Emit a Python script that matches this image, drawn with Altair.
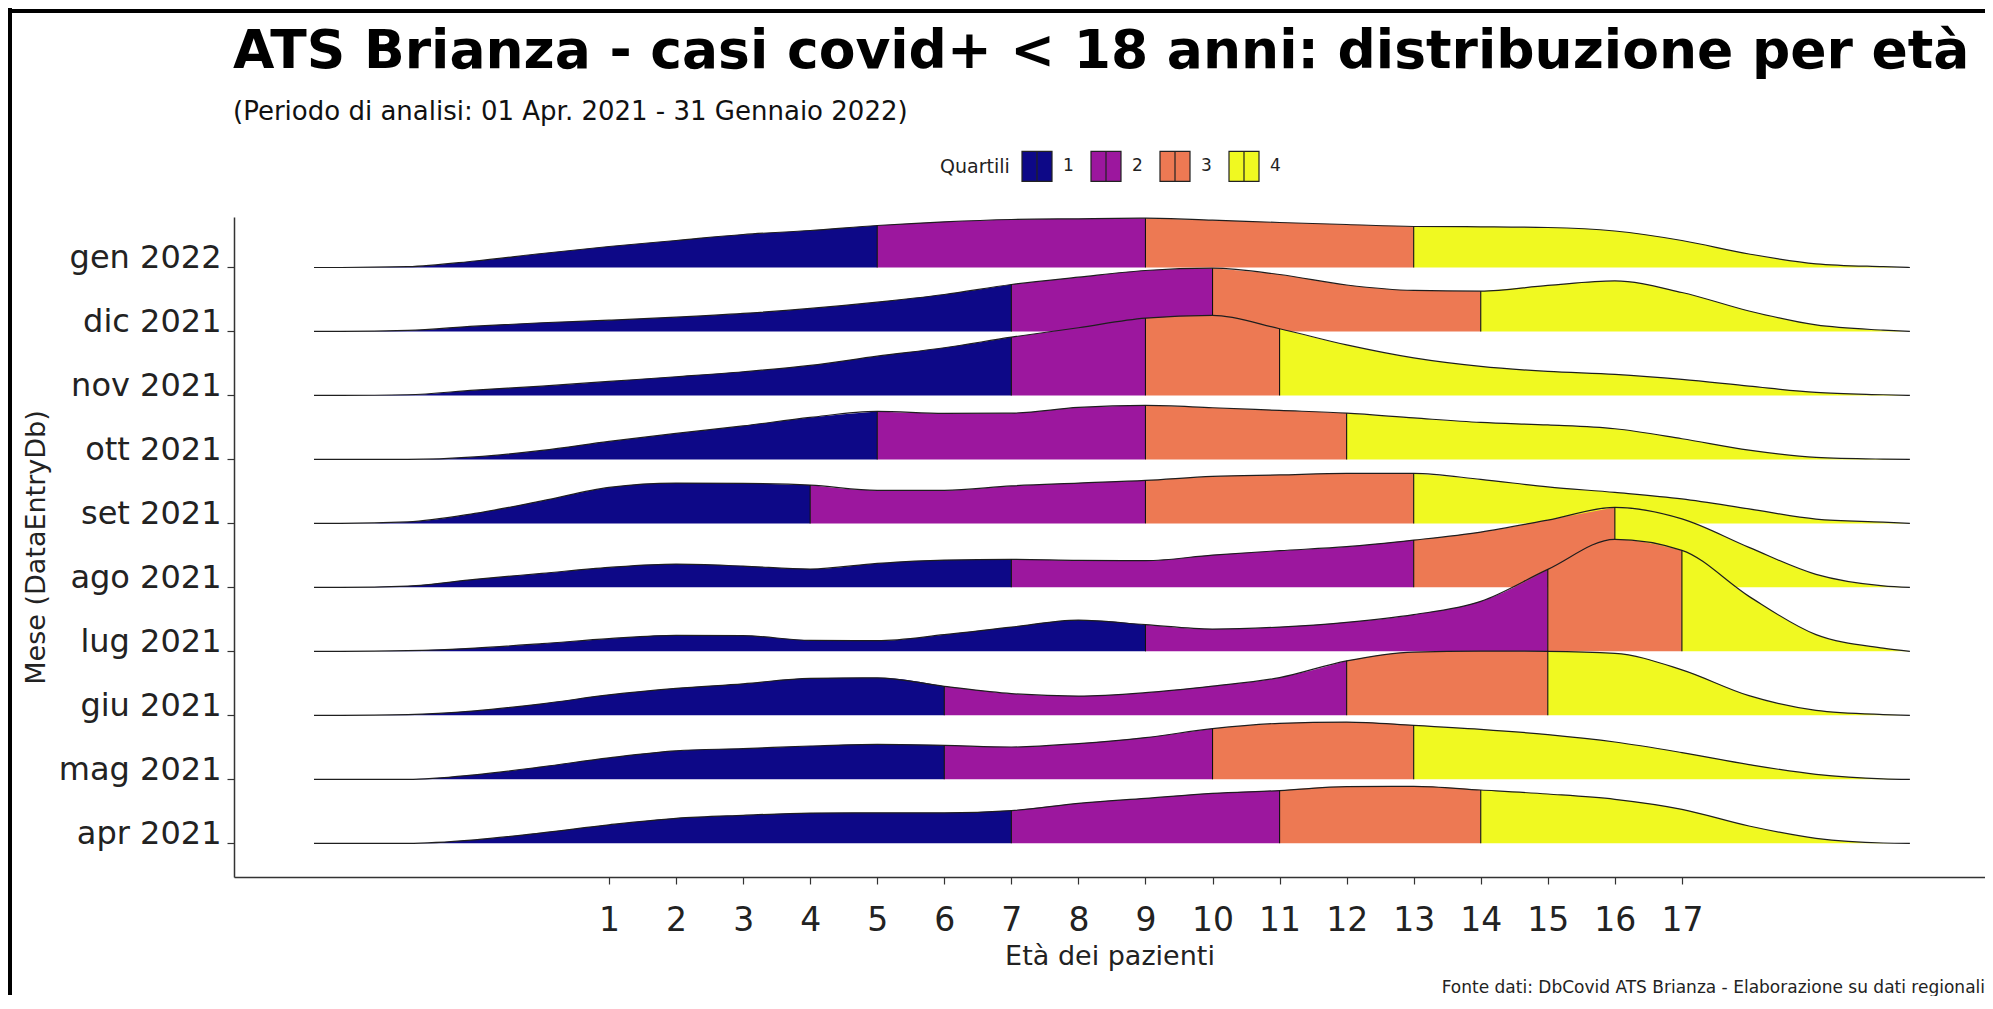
import altair as alt
import pandas as pd

# ---------------- data ----------------
MONTHS = ["apr 2021", "mag 2021", "giu 2021", "lug 2021", "ago 2021",
          "set 2021", "ott 2021", "nov 2021", "dic 2021", "gen 2022"]

AGES = [-3.4, -3, -2, -1, 0, 1, 2, 3, 4, 5, 6, 7, 8, 9, 10, 11, 12,
        13, 14, 15, 16, 17, 18, 19, 20, 20.4]

# relative density heights (one value per age in AGES)
DENS_GEN22 = [0, 0, 0.8, 6.5, 14, 21, 27, 33, 37, 42, 45.7, 48, 48.7, 49.3, 47.3, 45, 43, 41, 40.7, 40, 36.5, 27, 13.5, 3.7, 0.8, 0]
DENS_DIC21 = [0, 0, 1, 5.3, 8.7, 11.3, 14.3, 18, 23, 29.3, 37, 47, 54.3, 61, 63.3, 57, 46.5, 41, 40.3, 46, 50.5, 39, 20.5, 6.5, 1.3, 0]
DENS_NOV21 = [0, 0, 0.7, 5.3, 9.3, 14, 18.7, 23.7, 30, 39.3, 47.7, 58.3, 67.7, 77.3, 80, 66.7, 50.5, 37.5, 29, 24, 21, 16, 9.3, 3, 0.7, 0]
DENS_OTT21 = [0, 0, 0, 2.5, 9, 18, 26, 33.5, 42, 48, 46, 46.3, 52, 54, 51.7, 49, 46.3, 41.5, 37, 34.5, 30.7, 20.7, 9.3, 2, 0.3, 0]
DENS_SET21 = [0, 0, 1.5, 10, 22.5, 36, 40.3, 40, 38.3, 33, 33, 37.5, 40.3, 43, 47, 48.5, 50, 50, 44, 36.5, 31, 24.5, 14.5, 4.3, 1.2, 0]
DENS_AGO21 = [0, 0, 1.3, 8, 14, 20, 23.3, 21.3, 18.3, 24, 27.3, 28, 27, 26.7, 32.3, 36.7, 40.7, 47.3, 55.3, 67.3, 80, 68.5, 40, 13, 1.5, 0]
DENS_LUG21 = [0, 0, 0.7, 3.3, 7.7, 12.7, 16, 15.7, 11, 10.7, 16.7, 24.3, 31.3, 26.7, 22.3, 24.3, 29, 36.7, 50, 82, 112, 101, 55, 16.7, 3.3, 0]
DENS_GIU21 = [0, 0, 0.7, 4.5, 11.5, 20.5, 27, 31.5, 37, 37.5, 29, 21.7, 19.3, 22.7, 29.3, 37.7, 54.5, 63.3, 64.3, 64, 62, 45.5, 19.7, 5, 0.8, 0]
DENS_MAG21 = [0, 0, 0, 4.5, 12.5, 21.5, 28.5, 30.7, 33.3, 35, 34, 32.3, 35.7, 41.7, 50.7, 56, 57.3, 54, 50, 44.7, 37.3, 26.7, 14.7, 5, 0.5, 0]
DENS_APR21 = [0, 0, 0, 3.5, 10.5, 18.5, 25, 28, 30.2, 30.5, 30.5, 32.7, 40, 45, 50, 52.7, 56.7, 57, 53.3, 49.3, 44, 34, 17.3, 5, 0.3, 0]

DENS = {
    "gen 2022": DENS_GEN22, "dic 2021": DENS_DIC21, "nov 2021": DENS_NOV21,
    "ott 2021": DENS_OTT21, "set 2021": DENS_SET21, "ago 2021": DENS_AGO21,
    "lug 2021": DENS_LUG21, "giu 2021": DENS_GIU21, "mag 2021": DENS_MAG21,
    "apr 2021": DENS_APR21,
}

# quartile cut points (ages) per month
CUTS = {
    "gen 2022": [5, 9, 13], "dic 2021": [7, 10, 14], "nov 2021": [7, 9, 11],
    "ott 2021": [5, 9, 12], "set 2021": [4, 9, 13], "ago 2021": [7, 13, 16],
    "lug 2021": [9, 15, 17], "giu 2021": [6, 12, 15], "mag 2021": [6, 10, 13],
    "apr 2021": [7, 11, 14],
}

QUARTILI = ["1", "2", "3", "4"]
COLORS = ["#0D0887", "#9C179E", "#ED7953", "#F0F921"]
X_TICKS = list(range(1, 18))

TITLE = "ATS Brianza - casi covid+ < 18 anni: distribuzione per età"
SUBTITLE = "(Periodo di analisi: 01 Apr. 2021 - 31 Gennaio 2022)"
CAPTION = "Fonte dati: DbCovid ATS Brianza - Elaborazione su dati regionali"

# ---------------- display constants ----------------
RIDGE_SCALE = 64.0     # density units per row
W, H = 1751, 660
FONT = "DejaVu Sans"

# ---------------- tables ----------------
seg_rows, full_rows, cut_rows = [], [], []
for r, m in enumerate(MONTHS):
    vals = DENS[m]
    edges = [AGES[0]] + CUTS[m] + [AGES[-1]]
    for a, v in zip(AGES, vals):
        full_rows.append(dict(mese=m, age=a, base=r, top=r + v / RIDGE_SCALE))
    for qi in range(4):
        lo, hi = edges[qi], edges[qi + 1]
        for a, v in zip(AGES, vals):
            if lo <= a <= hi:
                seg_rows.append(dict(mese=m, age=a, base=r, top=r + v / RIDGE_SCALE,
                                     quartile=QUARTILI[qi]))
    for c in CUTS[m]:
        v = vals[AGES.index(c)]
        cut_rows.append(dict(mese=m, age=c, base=r, top=r + v / RIDGE_SCALE))

seg_df = pd.DataFrame(seg_rows)
full_df = pd.DataFrame(full_rows)
cut_df = pd.DataFrame(cut_rows)

label_js = "[" + ",".join("'%s'" % m for m in MONTHS) + "][datum.value]"

x_enc = alt.X("age:Q",
              scale=alt.Scale(domain=[-4.593, 21.52], nice=False, zero=False),
              axis=alt.Axis(values=X_TICKS, title="Età dei pazienti", labelFontSize=33,
                            titleFontSize=27, tickSize=7, labelPadding=20, titlePadding=6,
                            titleFontWeight="normal", labelFlush=False))
y_enc = alt.Y("top:Q",
              scale=alt.Scale(domain=[-0.527, 9.789], nice=False, zero=False),
              axis=alt.Axis(values=list(range(len(MONTHS))), labelExpr=label_js,
                            title="Mese (DataEntryDb)", labelFontSize=32, titleFontSize=27,
                            tickSize=7, labelPadding=6, titlePadding=8,
                            labelBaseline="alphabetic", titleFontWeight="normal"))
y2_enc = alt.Y2("base:Q")

color_enc = alt.Color(
    "quartile:N",
    scale=alt.Scale(domain=QUARTILI, range=COLORS),
    legend=alt.Legend(title="Quartili", orient="none", legendX=706, legendY=-67,
                      direction="horizontal", titleOrient="left", titleFontSize=19,
                      titleFontWeight="normal", titlePadding=11, labelFontSize=17,
                      labelOffset=10, columnPadding=14, symbolSize=900,
                      symbolType="M-1,-1H1V1H-1Z M0,-1V1", symbolStrokeColor="#222",
                      symbolStrokeWidth=1.2, symbolOpacity=1, padding=0),
)

layers = []
for m in reversed(MONTHS):  # top rows first, lower rows drawn on top
    f = alt.datum.mese == m
    area = alt.Chart(seg_df).transform_filter(f).mark_area(
        interpolate="monotone", opacity=1
    ).encode(x=x_enc, y=y_enc, y2=y2_enc, color=color_enc)
    line = alt.Chart(full_df).transform_filter(f).mark_line(
        interpolate="monotone", color="#1e1e1e", strokeWidth=1.2
    ).encode(x=x_enc, y=y_enc)
    rule = alt.Chart(cut_df).transform_filter(f).mark_rule(
        color="#111111", strokeWidth=1.1
    ).encode(x=x_enc, y=y_enc, y2=y2_enc)
    layers += [area, line, rule]

one = pd.DataFrame({"k": [0]})
frame_left = alt.Chart(one).mark_rect(color="black").encode(
    x=alt.value(-226), x2=alt.value(-222), y=alt.value(-209), y2=alt.value(778))
frame_top = alt.Chart(one).mark_rect(color="black").encode(
    x=alt.value(-226), x2=alt.value(W), y=alt.value(-208), y2=alt.value(-204))
title_txt = alt.Chart(one).mark_text(
    text=TITLE, align="left", baseline="alphabetic", fontSize=53.5, fontWeight="bold",
    color="black", font=FONT
).encode(x=alt.value(-1), y=alt.value(-149))
subtitle_txt = alt.Chart(one).mark_text(
    text=SUBTITLE, align="left", baseline="alphabetic", fontSize=26,
    color="#111111", font=FONT
).encode(x=alt.value(-1), y=alt.value(-97))
caption = alt.Chart(one).mark_text(
    text=CAPTION, align="right", baseline="alphabetic", fontSize=17, color="#222", font=FONT
).encode(x=alt.value(W), y=alt.value(776))

chart = alt.layer(*layers, frame_left, frame_top, title_txt, subtitle_txt, caption).properties(
    width=W, height=H,
    padding={"left": 0, "top": 0, "right": 0, "bottom": 0},
).configure(font=FONT).configure_view(strokeWidth=0).configure_axis(
    grid=False, labelColor="#222", titleColor="#222", domainColor="#333",
    tickColor="#333", domainWidth=1.5, tickWidth=1.2, labelFont=FONT, titleFont=FONT
).configure_legend(labelFont=FONT, titleFont=FONT, labelColor="#222", titleColor="#222")

chart.save("out.html", embed_options={"renderer": "svg", "actions": False})
